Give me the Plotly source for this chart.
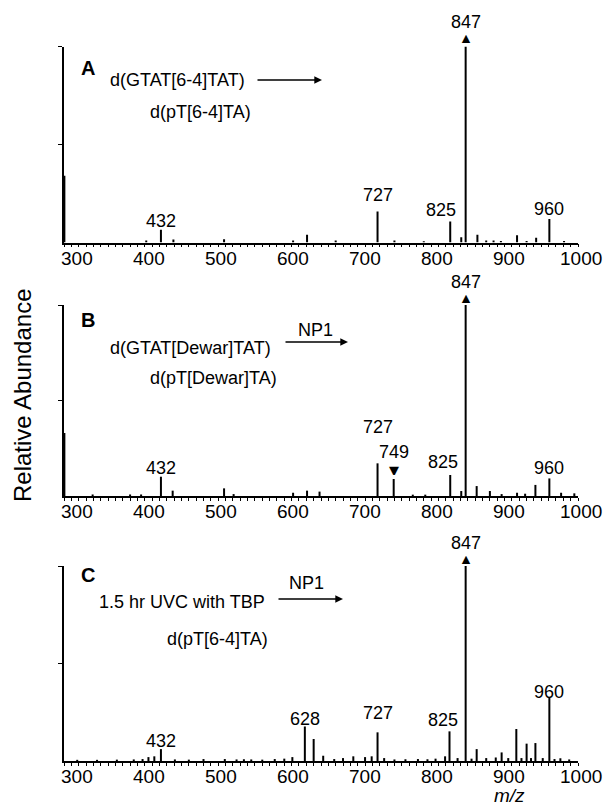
import plotly.graph_objects as go

# ---------------- data ----------------
# Panel A: d(GTAT[6-4]TAT) -> d(pT[6-4]TA)
mz_a = [300.5, 412, 432, 449, 518, 612, 631, 670, 727, 750, 790, 826, 841, 847, 863, 875, 885, 895, 917, 930, 943, 961, 981]
ab_a = [34, 1.0, 6.5, 1.5, 1.7, 1.0, 4.0, 1.0, 15.8, 1.0, 0.7, 10.7, 2.7, 100, 4.0, 1.0, 1.0, 0.8, 3.7, 0.8, 2.4, 12.0, 0.8]
labels_a = [432, 727, 825, 847, 960]

# Panel B: d(GTAT[Dewar]TAT) -> d(pT[Dewar]TA)
mz_b = [300.5, 339, 390, 405, 432, 448, 518, 531, 612, 631, 648, 727, 749, 775, 792, 826, 841, 847, 862, 880, 896, 917, 928, 942, 961, 977, 995]
ab_b = [33, 0.8, 0.8, 0.8, 10.1, 2.8, 4.0, 1.0, 1.7, 2.8, 2.3, 17.1, 8.9, 0.7, 0.7, 11.0, 2.6, 100, 5.2, 2.6, 1.0, 1.7, 1.2, 5.8, 9.2, 1.7, 1.4]
labels_b = [432, 727, 749, 825, 847, 960]

# Panel C: 1.5 hr UVC with TBP -> d(pT[6-4]TA)
mz_c = [318, 345, 372, 395, 407, 415, 423, 432, 451, 470, 490, 519, 535, 545, 555, 570, 587, 600, 611, 628, 640, 653, 668,
        680, 694, 710, 719, 727, 736, 750, 765, 782, 795, 806, 819, 825, 836, 847, 855, 862, 875, 888, 896, 905, 916, 923,
        930, 936, 942, 952, 961, 968, 976, 988]
ab_c = [0.6, 0.6, 0.7, 0.8, 1.0, 2.0, 2.4, 6.1, 0.8, 0.7, 1.0, 1.0, 0.8, 0.9, 0.8, 0.7, 1.0, 1.2, 2.0, 17.7, 11.3, 2.7, 1.0,
        1.5, 2.4, 2.0, 2.4, 14.7, 1.5, 0.8, 0.9, 1.0, 0.9, 1.2, 2.4, 15.2, 1.5, 100, 1.2, 6.1, 1.5, 1.8, 4.4, 1.5, 16.4, 1.5,
        8.9, 1.5, 9.2, 1.5, 32.3, 1.0, 1.4, 0.8]
labels_c = [432, 628, 727, 825, 847, 960]

x_ticks = [300, 400, 500, 600, 700, 800, 900, 1000]
x_tick_text = ["300", "400", "500", "600", "700", "800", "900", "1000"]

# ---------------- layout helpers ----------------
W, H = 613, 806
FONT = "Liberation Sans, Arial, Helvetica, sans-serif"


def px_x(p):
    return p / W


def px_y(p):
    return 1 - p / H


# plot frame (pixels): left, right, and per panel top/baseline
XL, XR = 64, 578
panels = [
    dict(mz=mz_a, ab=ab_a, labels=labels_a, top=46.5, base=242.5,
         shifts={432: 9, 727: 17, 825: 12, 847: 25, 960: 10}, xsh={825: -9}, up={847: 8.5}, down={}),
    dict(mz=mz_b, ab=ab_b, labels=labels_b, top=305, base=496,
         shifts={432: 9, 727: 36, 749: 27, 825: 13, 847: 23, 960: 10}, xsh={825: -7}, up={847: 7}, down={749: 9}),
    dict(mz=mz_c, ab=ab_c, labels=labels_c, top=566, base=761,
         shifts={432: 8, 628: 7, 727: 19, 825: 11, 847: 23, 960: 6}, xsh={825: -7}, up={847: 7}, down={}),
]

fig = go.Figure()
annotations = []
layout_axes = {}

for i, p in enumerate(panels, start=1):
    xs, ys = [], []
    for m, a in zip(p["mz"], p["ab"]):
        xs += [m, m, None]
        ys += [0, a, None]
    xa = "x" if i == 1 else f"x{i}"
    ya = "y" if i == 1 else f"y{i}"
    fig.add_trace(go.Scatter(x=xs, y=ys, mode="lines", xaxis=xa, yaxis=ya,
                             line=dict(color="black", width=2.0), hoverinfo="skip",
                             showlegend=False, cliponaxis=False))
    xkey = "xaxis" if i == 1 else f"xaxis{i}"
    ykey = "yaxis" if i == 1 else f"yaxis{i}"
    layout_axes[xkey] = dict(
        domain=[px_x(XL), px_x(XR)], range=[300, 1000], anchor=ya, automargin=False,
        showline=True, linecolor="black", linewidth=1.6, mirror=False,
        showgrid=False, zeroline=False,
        tickmode="array", tickvals=x_ticks, showticklabels=False,
        ticks="outside", ticklen=3, tickwidth=1.2, tickcolor="black",
        minor=dict(tickmode="linear", tick0=300, dtick=10, ticks="outside", ticklen=3,
                   tickwidth=1.2, tickcolor="black", showgrid=False),
    )
    layout_axes[ykey] = dict(
        domain=[px_y(p["base"]), px_y(p["top"])], range=[0, 100], anchor=xa, automargin=False,
        showline=True, linecolor="black", linewidth=1.6,
        showgrid=False, zeroline=False,
        tickmode="array", tickvals=[50, 100], showticklabels=False,
        ticks="outside", ticklen=4, tickwidth=1.2, tickcolor="black",
    )

    # x tick labels (printed slightly offset to the right of their ticks, as in the original)
    for tv, tt in zip(x_ticks, x_tick_text):
        frac = (tv - x_ticks[0]) / (x_ticks[-1] - x_ticks[0])
        annotations.append(dict(x=tv, y=0, xref=xa, yref=ya, text=tt, showarrow=False,
                                xanchor="center", yanchor="middle", xshift=13 - 10 * frac, yshift=-15.5,
                                font=dict(family=FONT, size=19, color="black")))

    # peak labels
    for lab in p["labels"]:
        near = [a for m, a in zip(p["mz"], p["ab"]) if abs(m - lab) <= 3]
        h = max(near) if near else 0
        annotations.append(dict(x=lab, y=h, xref=xa, yref=ya, text=str(lab), showarrow=False,
                                yanchor="middle", xanchor="center", yshift=p["shifts"][lab],
                                xshift=p["xsh"].get(lab, 0),
                                font=dict(family=FONT, size=18, color="black")))
        for key, glyph in (("up", "▲"), ("down", "▼")):
            if lab in p[key]:
                annotations.append(dict(x=lab, y=h, xref=xa, yref=ya, text=glyph, showarrow=False,
                                        yanchor="middle", xanchor="center", yshift=p[key][lab],
                                        height=10, width=12, borderpad=0,
                                        font=dict(family="DejaVu Sans", size=13, color="black")))


def txt(text, x, y, anchor="left", size=18, bold=False, italic=False):
    t = text
    if bold:
        t = f"<b>{t}</b>"
    if italic:
        t = f"<i>{t}</i>"
    annotations.append(dict(x=px_x(x), y=px_y(y), xref="paper", yref="paper", text=t, showarrow=False,
                            xanchor=anchor, yanchor="middle",
                            font=dict(family=FONT, size=size, color="black")))


def arrow(x0, x1, y):
    annotations.append(dict(x=px_x(x1), y=px_y(y), xref="paper", yref="paper", text="",
                            showarrow=True, ax=x0 - x1, ay=0, axref="pixel", ayref="pixel",
                            arrowhead=2, arrowsize=1.1, arrowwidth=1.4, arrowcolor="black",
                            standoff=0, startstandoff=0))


# Panel A texts
txt("A", 88, 68, anchor="center", size=20, bold=True)
txt("d(GTAT[6-4]TAT)", 108, 80)
arrow(256, 322, 80)
txt("d(pT[6-4]TA)", 148, 112)

# Panel B texts
txt("B", 88, 320, anchor="center", size=20, bold=True)
txt("NP1", 315, 330, anchor="center")
txt("d(GTAT[Dewar]TAT)", 108, 348)
arrow(284, 348, 342)
txt("d(pT[Dewar]TA)", 148, 378)

# Panel C texts
txt("C", 88, 575, anchor="center", size=20, bold=True)
txt("NP1", 307, 583, anchor="center")
txt("1.5 hr UVC with TBP", 97, 602)
arrow(277, 343, 599)
txt("d(pT[6-4]TA)", 165, 639)

# axis titles
txt("m/z", 509, 795, anchor="center", size=19, italic=True)
annotations.append(dict(x=px_x(22), y=px_y(395), xref="paper", yref="paper", text="Relative Abundance",
                        showarrow=False, textangle=-90, xanchor="center", yanchor="middle",
                        font=dict(family=FONT, size=24, color="black")))

fig.update_layout(
    width=W, height=H,
    margin=dict(l=0, r=0, t=0, b=0, autoexpand=False),
    paper_bgcolor="white", plot_bgcolor="white",
    showlegend=False,
    annotations=annotations,
    **layout_axes,
)

fig.write_html("out.html")
